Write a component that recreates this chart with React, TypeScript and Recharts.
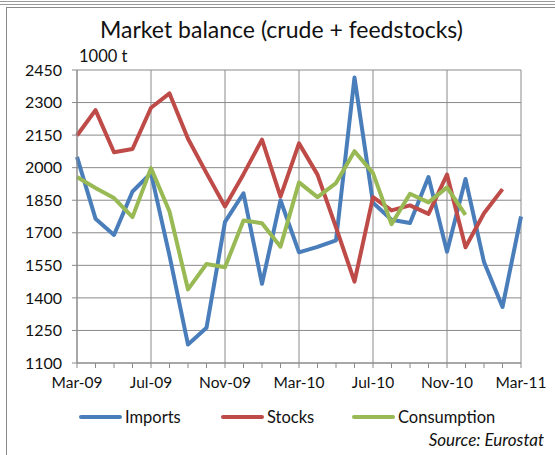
import { LineChart, Line, XAxis, YAxis, CartesianGrid, ReferenceLine } from "recharts"

const months = [
  "Mar-09", "Apr-09", "May-09", "Jun-09", "Jul-09", "Aug-09", "Sep-09", "Oct-09", "Nov-09",
  "Dec-09", "Jan-10", "Feb-10", "Mar-10", "Apr-10", "May-10", "Jun-10", "Jul-10", "Aug-10",
  "Sep-10", "Oct-10", "Nov-10", "Dec-10", "Jan-11", "Feb-11", "Mar-11",
]
const imports = [
  2050, 1765, 1690, 1890, 1975, 1595, 1185, 1262, 1750, 1882, 1465, 1850, 1610,
  1635, 1665, 2415, 1838, 1760, 1745, 1957, 1613, 1948, 1565, 1358, 1775,
]
const stocks = [
  2148, 2265, 2071, 2086, 2276, 2342, 2133, 1975, 1821, 1970, 2129, 1867, 2112,
  1968, 1725, 1475, 1864, 1803, 1826, 1787, 1968, 1633, 1790, 1901, null,
]
const consumption = [
  1957, 1906, 1860, 1772, 1998, 1798, 1439, 1556, 1541, 1757, 1744, 1636, 1932,
  1864, 1929, 2076, 1975, 1740, 1880, 1840, 1909, 1783, null, null, null,
]
const yTicks = [1100, 1250, 1400, 1550, 1700, 1850, 2000, 2150, 2300, 2450]
const majorMonths = [0, 4, 8, 12, 16, 20, 24]

const data = months.map((m, i) => ({
  i,
  month: m,
  imports: imports[i],
  stocks: stocks[i],
  consumption: consumption[i],
}))

const FONT = "Lato, 'Open Sans', sans-serif"
const GRID = "#8a8a8a"

const legendItems = [
  { name: "Imports", color: "#4a7ebb", left: 79 },
  { name: "Stocks", color: "#be4b48", left: 221 },
  { name: "Consumption", color: "#98b954", left: 352 },
]

export default function App() {
  return (
    <div style={{ position: "fixed", left: 0, top: 0, width: 555, height: 455, background: "#fff", fontFamily: FONT, overflow: "hidden" }}>
      <div style={{ position: "absolute", left: 0, top: 1, width: 555, height: 2, borderTop: "1px solid #9a9a9a", borderBottom: "1px solid #9a9a9a" }} />
      <div style={{ position: "absolute", left: 6, top: 7, width: 600, height: 500, border: "1px solid #8a8a8a" }} />
      <div style={{ position: "absolute", left: 0, width: 563, top: 15, textAlign: "center", fontSize: 23, color: "#111" }}>
        Market balance (crude + feedstocks)
      </div>
      <div style={{ position: "absolute", left: 79, top: 46, fontSize: 16.5, color: "#111" }}>1000 t</div>
      <div style={{ position: "absolute", left: 0, top: 0 }}>
        <LineChart width={555} height={455} data={data} margin={{ top: 70, right: 34, bottom: 62, left: 17 }}>
          <CartesianGrid vertical={false} stroke={GRID} />
          {majorMonths.map((m) => (
            <ReferenceLine key={m} x={m} stroke={GRID} ifOverflow="extendDomain" />
          ))}
          <XAxis
            dataKey="i"
            type="number"
            domain={[0, 24]}
            ticks={months.map((_, i) => i)}
            interval={0}
            tickFormatter={(v: number) => (v % 4 === 0 ? months[v] : "")}
            tickSize={5}
            tickMargin={9}
            stroke={GRID}
            tick={{ fill: "#111", fontSize: 15.5, fontFamily: FONT }}
            height={30}
          />
          <YAxis
            domain={[1100, 2450]}
            ticks={yTicks}
            interval={0}
            tickSize={5}
            tickMargin={10}
            stroke={GRID}
            tick={{ fill: "#111", fontSize: 16, fontFamily: FONT }}
            width={60}
          />
          <Line dataKey="imports" stroke="#4a7ebb" strokeWidth={4} dot={false} isAnimationActive={false} strokeLinejoin="round" />
          <Line dataKey="stocks" stroke="#be4b48" strokeWidth={4} dot={false} isAnimationActive={false} strokeLinejoin="round" />
          <Line dataKey="consumption" stroke="#98b954" strokeWidth={4} dot={false} isAnimationActive={false} strokeLinejoin="round" />
        </LineChart>
      </div>
      {legendItems.map((it) => (
        <div key={it.name} style={{ position: "absolute", left: it.left, top: 407, display: "flex", alignItems: "center", fontSize: 16.5, color: "#111" }}>
          <span style={{ display: "inline-block", width: 43, height: 4, background: it.color, borderRadius: 2, marginRight: 3 }} />
          {it.name}
        </div>
      ))}
      <div style={{ position: "absolute", right: 11, top: 429, fontSize: 17, fontStyle: "italic", color: "#111" }}>Source: Eurostat</div>
    </div>
  )
}
